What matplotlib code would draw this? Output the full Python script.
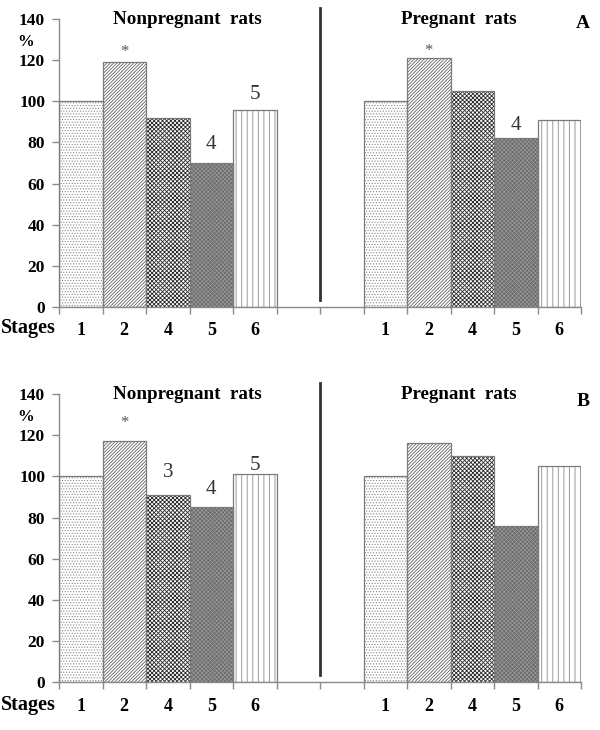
import matplotlib
matplotlib.use("Agg")
import matplotlib.pyplot as plt
import numpy as np

plt.rcParams['font.family'] = ['Liberation Serif', 'DejaVu Serif']
plt.rcParams['hatch.linewidth'] = 0.55

# ---------------- data ----------------
stages = ["1", "2", "4", "5", "6"]
groups = ["Nonpregnant  rats", "Pregnant  rats"]
panels = ["A", "B"]

A_nonpregnant = [100, 119, 92, 70, 96]
A_pregnant = [100, 121, 105, 82, 91]
B_nonpregnant = [100, 117, 91, 85, 101]
B_pregnant = [100, 116, 110, 76, 105]

# annotation labels per bar ('' = none)
A_nonpregnant_marks = ["", "*", "", "4", "5"]
A_pregnant_marks = ["", "*", "", "4", ""]
B_nonpregnant_marks = ["", "*", "3", "4", "5"]
B_pregnant_marks = ["", "", "", "", ""]

yticks = [0, 20, 40, 60, 80, 100, 120, 140]

# ---------------- styles ----------------
# (facecolor, hatch, hatchcolor, hatch linewidth)
styles = [
    ("white", "......", "#8c8c8c", 0.5),
    ("white", "//////////", "#5a5a5a", 0.55),
    ("white", "xxxxxxxx", "#2a2a2a", 0.6),
    ("#6c6c6c", "xxxxxxxx", "#9c9c9c", 0.45),
    ("white", "|||", "#9a9a9a", 0.7),
]

# offsets (points) of annotation text above bar tops, per panel/group
mark_offsets = {
    ("A", 0): [0, 7, 0, 13, 11],
    ("A", 1): [0, 5, 0, 9, 0],
    ("B", 0): [0, 13, 16, 13, 6],
    ("B", 1): [0, 0, 0, 0, 0],
}

fig = plt.figure(figsize=(6, 7.3), dpi=100)
W, H = 600, 730

def add_panel(rect_px, panel, nonpreg, preg, marks_np, marks_p):
    left, bottom_px, right, top_px = rect_px
    ax = fig.add_axes([left / W, 1 - bottom_px / H, (right - left) / W,
                       (bottom_px - top_px) / H])
    ax.set_xlim(0, 12)
    ax.set_ylim(0, 140)
    n = len(stages)
    x_np = np.arange(n) + 0.5
    x_p = np.arange(n) + 7.5
    for xs, vals, marks, gi in ((x_np, nonpreg, marks_np, 0), (x_p, preg, marks_p, 1)):
        for i, (x, v) in enumerate(zip(xs, vals)):
            fc, hatch, hc, hlw = styles[i]
            b = ax.bar(x, v, width=1.0, color=fc, edgecolor=hc, hatch=hatch,
                       linewidth=0, zorder=2)[0]
            try:
                b.set_hatch_linewidth(hlw)
            except Exception:
                pass
            ax.bar(x, v, width=1.0, fill=False, edgecolor="#7a7a7a",
                   linewidth=0.9, zorder=3)
            m = marks[i]
            if m:
                off = mark_offsets[(panel, gi)][i]
                if m == "*":
                    ax.annotate(m, (x, v), xytext=(0, off), textcoords="offset points",
                                ha="center", va="center", fontsize=12, color="#555555")
                else:
                    ax.annotate(m, (x, v), xytext=(0, off), textcoords="offset points",
                                ha="center", va="center", fontsize=15, color="#333333")
    # separator line
    ax.plot([6, 6], [3.5, 145.5], color="#333333", linewidth=2, clip_on=False, zorder=4)

    for s in ("top", "right"):
        ax.spines[s].set_visible(False)
    for s in ("left", "bottom"):
        ax.spines[s].set_color("#8a8a8a")
        ax.spines[s].set_linewidth(1.0)
    ax.set_yticks(yticks)
    ax.set_yticklabels([str(t) for t in yticks], fontsize=12.5, fontweight="bold")
    ax.tick_params(axis="y", direction="out", length=5, width=1, color="#8a8a8a", pad=5)
    ax.set_xticks(list(x_np) + list(x_p))
    ax.set_xticklabels(stages + stages, fontsize=13, fontweight="bold")
    ax.tick_params(axis="x", which="major", length=0, pad=11)
    ax.set_xticks(np.arange(0, 13), minor=True)
    ax.tick_params(axis="x", which="minor", direction="out", length=5, width=1,
                   color="#8a8a8a")
    # group titles
    ax.text(3.0 - 0.05, 140, groups[0], ha="center", va="center", fontsize=13.7,
            fontweight="bold")
    ax.text(9.0 + 0.2, 140, groups[1], ha="center", va="center", fontsize=13.7,
            fontweight="bold")
    return ax

axA = add_panel((59, 307, 581, 19), "A", A_nonpregnant, A_pregnant,
                A_nonpregnant_marks, A_pregnant_marks)
axB = add_panel((59, 682.3, 581, 394), "B", B_nonpregnant, B_pregnant,
                B_nonpregnant_marks, B_pregnant_marks)

for ypx_stage, ypx_pct, ypx_letter, letter in ((328, 42, 24, "A"), (705, 417, 401, "B")):
    fig.text(1 / W, 1 - ypx_stage / H, "Stages", ha="left", va="center",
             fontsize=14.5, fontweight="bold")
    fig.text(26 / W, 1 - ypx_pct / H, "%", ha="center", va="center",
             fontsize=12, fontweight="bold")
    fig.text(583 / W, 1 - ypx_letter / H, letter, ha="center", va="center",
             fontsize=14, fontweight="bold")

fig.savefig("out.png", dpi=100)
